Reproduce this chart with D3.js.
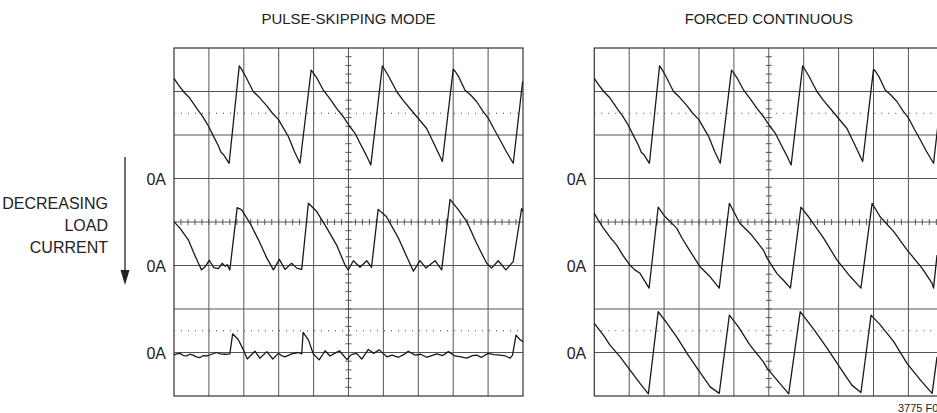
<!DOCTYPE html>
<html>
<head>
<meta charset="utf-8">
<script src="https://cdn.jsdelivr.net/npm/d3@7"></script>
<style>
  body { margin: 0; background: #fff; }
  text { font-family: "Liberation Sans", Arial, sans-serif; fill: #222; }
</style>
</head>
<body>
<svg class="scope"></svg>
<script>
// oscilloscope screen: 10 x 8 divisions, traces in division units [time, level]
const titles = ["PULSE-SKIPPING MODE", "FORCED CONTINUOUS"];
const zeroLevels = [5, 3, 1];          // 0A reference of each trace (div)
const zeroLabel = "0A";
const sideLabel = ["DECREASING", "LOAD", "CURRENT"];
const figureNo = "3775 F0";
const dottedLevels = [6.5, 1.5];

// top trace, heavy load (same in both modes)
const heavyLoad = [
  [0,7.30],[0.12,7.16],[0.27,7.00],[0.45,6.85],[0.58,6.70],[0.65,6.61],[0.80,6.45],[0.97,6.23],[1.10,6.02],[1.26,5.77],
  [1.35,5.60],[1.42,5.55],[1.58,5.35],[1.87,7.59],[1.93,7.52],[2.05,7.35],[2.27,7.00],[2.45,6.86],[2.66,6.67],[2.82,6.50],
  [2.99,6.36],[3.12,6.18],[3.28,5.96],[3.45,5.62],[3.61,5.35],[3.93,7.49],[3.99,7.43],[4.10,7.30],[4.28,7.03],[4.48,6.82],
  [4.66,6.61],[4.85,6.42],[5.04,6.19],[5.18,6.05],[5.33,5.81],[5.50,5.55],[5.64,5.31],[5.97,7.59],[6.04,7.50],[6.15,7.35],
  [6.38,7.00],[6.56,6.80],[6.76,6.61],[7.00,6.38],[7.24,6.15],[7.45,5.80],[7.69,5.39],[8.00,7.51],[8.06,7.46],[8.15,7.35],
  [8.34,7.03],[8.50,6.92],[8.67,6.77],[8.85,6.55],[9.01,6.38],[9.18,6.12],[9.34,5.89],[9.52,5.62],[9.72,5.35],[9.99,7.23]
];

// pulse-skipping, medium load
const skipMedium = [
  [0,4.01],[0.17,3.86],[0.41,3.59],[0.55,3.32],[0.70,3.05],[0.79,2.90],[0.89,2.97],[1.01,3.12],[1.14,2.95],[1.27,2.93],
  [1.38,3.05],[1.47,2.98],[1.52,3.02],[1.60,2.90],[1.81,4.33],[1.94,4.28],[2.18,3.97],[2.42,3.59],[2.66,3.17],[2.85,2.90],
  [3.02,3.14],[3.18,2.91],[3.37,3.05],[3.52,2.94],[3.66,2.91],[3.85,4.43],[4.09,4.24],[4.38,3.86],[4.66,3.47],[4.90,3.01],
  [4.99,2.90],[5.14,3.11],[5.33,2.96],[5.52,3.11],[5.66,2.96],[5.85,4.29],[6.09,4.12],[6.43,3.63],[6.67,3.20],[6.86,2.87],
  [7.05,3.11],[7.22,2.94],[7.48,3.11],[7.67,2.90],[7.91,4.52],[8.15,4.28],[8.39,4.01],[8.67,3.51],[8.96,3.05],[9.10,2.94],
  [9.29,3.11],[9.51,2.90],[9.72,3.09],[9.96,4.31],[10,4.24]
];

// pulse-skipping, light load
const skipLight = [
  [0,0.94],[0.08,0.97],[0.17,0.98],[0.27,0.93],[0.36,0.92],[0.45,0.96],[0.55,0.94],[0.64,0.90],[0.74,0.88],[0.84,0.93],
  [0.94,0.92],[1.08,0.96],[1.22,1.00],[1.33,0.97],[1.46,0.96],[1.60,0.97],[1.68,1.43],[1.84,1.30],[1.99,1.06],[2.10,0.85],
  [2.32,1.03],[2.46,0.87],[2.66,1.02],[2.83,0.85],[2.99,0.98],[3.08,0.93],[3.18,0.90],[3.37,0.97],[3.56,1.00],[3.66,0.97],
  [3.70,1.46],[3.85,1.29],[3.99,0.97],[4.16,0.83],[4.33,1.04],[4.47,0.92],[4.60,0.98],[4.74,1.04],[4.90,0.89],[4.95,0.84],
  [5.08,0.95],[5.23,0.98],[5.38,0.85],[5.57,1.07],[5.72,0.98],[5.88,1.06],[6.10,0.90],[6.25,0.94],[6.43,0.89],[6.58,0.95],
  [6.71,1.03],[6.91,0.94],[7.07,0.96],[7.24,0.89],[7.38,0.93],[7.53,0.97],[7.70,0.93],[7.86,1.02],[8.05,0.92],[8.22,0.90],
  [8.39,0.87],[8.55,0.93],[8.67,0.94],[8.81,0.89],[9.00,0.98],[9.17,0.95],[9.34,0.94],[9.50,0.92],[9.63,0.87],[9.70,0.94],
  [9.80,1.40],[9.91,1.30],[10,1.25]
];

// forced continuous, medium load
const fcmMedium = [
  [0,4.20],[0.11,4.05],[0.26,3.86],[0.45,3.65],[0.64,3.47],[0.83,3.22],[1.02,3.01],[1.16,2.90],[1.31,2.82],[1.57,2.48],
  [1.83,4.34],[2.03,4.12],[2.36,3.86],[2.52,3.62],[2.69,3.40],[3.03,2.97],[3.32,2.74],[3.58,2.48],[3.87,4.43],[4.17,3.97],
  [4.51,3.70],[4.84,3.36],[4.95,3.17],[5.23,2.82],[5.42,2.66],[5.62,2.48],[5.92,4.34],[6.14,4.12],[6.57,3.63],[6.95,3.13],
  [7.34,2.74],[7.64,2.48],[7.96,4.43],[8.19,4.12],[8.58,3.78],[8.96,3.36],[9.39,2.94],[9.68,2.59],[9.72,2.48],[9.82,3.24]
];

// forced continuous, light load
const fcmLight = [
  [0,1.67],[0.26,1.40],[0.45,1.17],[0.74,0.90],[1.02,0.60],[1.31,0.29],[1.55,0.05],[1.83,1.94],[2.03,1.73],[2.36,1.36],
  [2.69,0.94],[2.98,0.60],[3.32,0.21],[3.58,0.06],[3.87,1.86],[4.13,1.59],[4.46,1.17],[4.84,0.79],[4.95,0.64],[5.23,0.37],
  [5.57,0.05],[5.90,1.94],[6.29,1.53],[6.67,1.10],[7.05,0.64],[7.38,0.25],[7.64,0.08],[7.93,1.86],[8.20,1.63],[8.58,1.25],
  [8.96,0.75],[9.34,0.37],[9.68,0.06],[9.82,0.90]
];

const panels = [
  {left: 174, title: titles[0], traces: [heavyLoad, skipMedium, skipLight]},
  {left: 594.3, title: titles[1], traces: [heavyLoad, fcmMedium, fcmLight]}
];

var width = 937, height = 413;
var svg = d3.select(".scope")
  .attr("width", width)
  .attr("height", height);

const divW = 34.9;
const plotTop = 48, plotBottom = 396;

const yScale = d3.scaleLinear()
  .domain([0, 8])
  .range([plotBottom, plotTop]);

panels.forEach(p => drawPanel(p));

function drawPanel(p) {
  var xScale = d3.scaleLinear()
    .domain([0, 10])
    .range([p.left, p.left + 10 * divW]);

  var g = svg.append("g").attr("class", "panel");

  // grid
  g.selectAll("line.vgrid")
    .data(d3.range(1, 10))
    .join("line")
    .attr("class", "vgrid")
    .attr("x1", d => xScale(d)).attr("x2", d => xScale(d))
    .attr("y1", plotTop).attr("y2", plotBottom)
    .attr("stroke", "#555").attr("stroke-width", 1);

  g.selectAll("line.hgrid")
    .data(d3.range(1, 8))
    .join("line")
    .attr("class", "hgrid")
    .attr("x1", xScale(0)).attr("x2", xScale(10))
    .attr("y1", d => yScale(d)).attr("y2", d => yScale(d))
    .attr("stroke", "#555").attr("stroke-width", 1);

  // dotted reference lines
  g.selectAll("line.dots")
    .data(dottedLevels)
    .join("line")
    .attr("class", "dots")
    .attr("x1", xScale(0)).attr("x2", xScale(10))
    .attr("y1", d => yScale(d)).attr("y2", d => yScale(d))
    .attr("stroke", "#444").attr("stroke-width", 1)
    .attr("stroke-dasharray", "1,6");

  // minor ticks on centre axes
  g.selectAll("line.ytick")
    .data(d3.range(1, 40))
    .join("line")
    .attr("class", "ytick")
    .attr("x1", xScale(5) - 3).attr("x2", xScale(5) + 3)
    .attr("y1", d => yScale(d / 5)).attr("y2", d => yScale(d / 5))
    .attr("stroke", "#555");

  g.selectAll("line.xtick")
    .data(d3.range(1, 50))
    .join("line")
    .attr("class", "xtick")
    .attr("x1", d => xScale(d / 5)).attr("x2", d => xScale(d / 5))
    .attr("y1", yScale(4) - 3).attr("y2", yScale(4) + 3)
    .attr("stroke", "#555");

  // frame
  g.append("rect")
    .attr("x", xScale(0)).attr("y", plotTop)
    .attr("width", xScale(10) - xScale(0)).attr("height", plotBottom - plotTop)
    .attr("fill", "none").attr("stroke", "#333").attr("stroke-width", 1.2);

  var line = d3.line()
    .x(d => xScale(d[0]))
    .y(d => yScale(d[1]));

  p.traces.forEach(t => {
    g.append("path")
      .datum(t)
      .attr("d", line)
      .attr("fill", "none")
      .attr("stroke", "#1a1a1a")
      .attr("stroke-width", 1.3)
      .attr("stroke-linejoin", "round");
  });

  g.append("text")
    .attr("x", xScale(5)).attr("y", 24)
    .attr("text-anchor", "middle")
    .style("font-size", "15px")
    .text(p.title);

  g.selectAll("text.zero")
    .data(zeroLevels)
    .join("text")
    .attr("class", "zero")
    .attr("x", xScale(0) - 8).attr("y", d => yScale(d) + 6)
    .attr("text-anchor", "end")
    .style("font-size", "16px")
    .text(zeroLabel);
}

// side label and arrow
svg.selectAll("text.side")
  .data(sideLabel)
  .join("text")
  .attr("class", "side")
  .attr("x", 108)
  .attr("y", (d, i) => 209 + i * 22)
  .attr("text-anchor", "end")
  .style("font-size", "16px")
  .text(d => d);

svg.append("line")
  .attr("x1", 125).attr("x2", 125)
  .attr("y1", 157).attr("y2", 272)
  .attr("stroke", "#222").attr("stroke-width", 1.3);

svg.append("path")
  .attr("d", "M120.5,270 L129.5,270 L125,285 Z")
  .attr("fill", "#222");

svg.append("text")
  .attr("x", 898).attr("y", 412)
  .style("font-size", "11px")
  .text(figureNo);
</script>
</body>
</html>
